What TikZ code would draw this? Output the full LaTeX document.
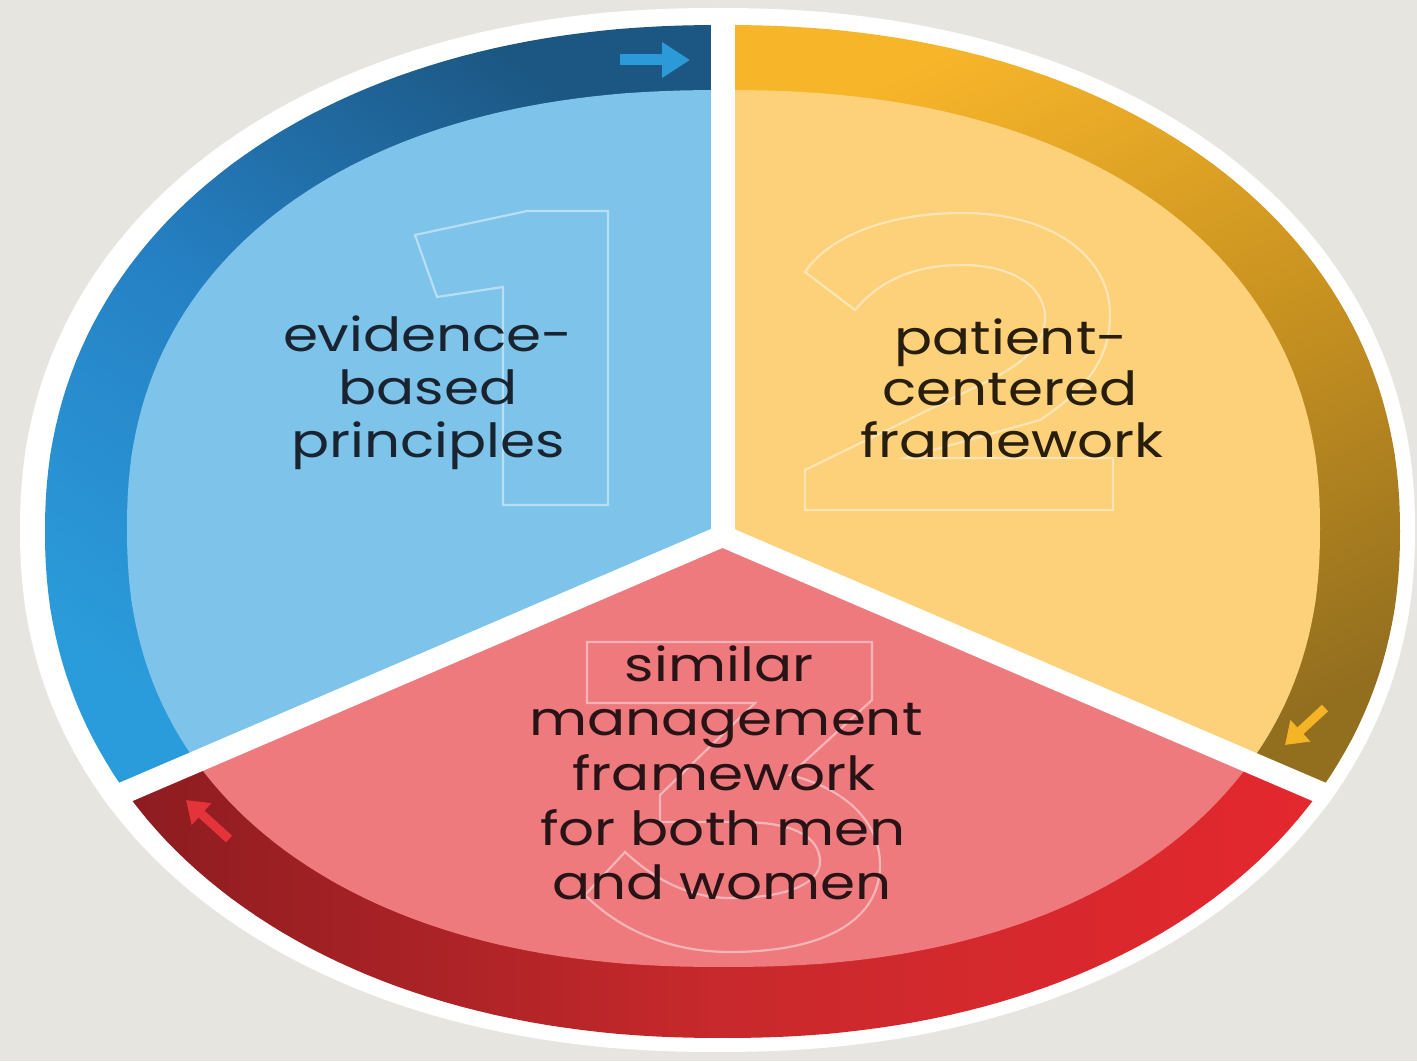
\documentclass[tikz,border=0pt]{standalone}
\usepackage{fontspec}
\newfontfamily\labfont[FakeStretch=1.2]{Poppins}
\usetikzlibrary{arrows.meta}
\definecolor{bg}{RGB}{231,229,223}
\definecolor{blueD}{RGB}{28,86,130}
\definecolor{blueM}{RGB}{37,128,195}
\definecolor{blueL}{RGB}{43,156,219}
\definecolor{blueIn}{RGB}{126,195,234}
\definecolor{goldB}{RGB}{247,181,42}
\definecolor{goldM}{RGB}{200,146,32}
\definecolor{goldD}{RGB}{146,110,31}
\definecolor{goldIn}{RGB}{253,209,122}
\definecolor{redD}{RGB}{140,28,32}
\definecolor{redM}{RGB}{200,41,44}
\definecolor{redB}{RGB}{228,40,46}
\definecolor{redIn}{RGB}{238,122,126}
\definecolor{arrBlue}{RGB}{44,154,216}
\definecolor{arrGold}{RGB}{245,180,37}
\definecolor{arrRed}{RGB}{229,51,58}
\definecolor{txtBlue}{RGB}{26,36,48}
\definecolor{txtGold}{RGB}{40,30,14}
\definecolor{txtRed}{RGB}{40,20,22}
\tikzset{
  declare function={
    sx(\t,\e)=sign(cos(\t))*pow(abs(cos(\t))+0.00001,\e);
    sy(\t,\e)=sign(sin(\t))*pow(abs(sin(\t))+0.00001,\e);
  },
  divider/.style={white, line width=22pt},
  numeral/.style={draw=white, draw opacity=0.45, line width=2.2pt, line join=miter},
  lab/.style={font=\labfont\fontsize{47}{54}\selectfont, anchor=base, inner sep=0pt},
  ringarrow/.style={line width=11pt, -{Triangle[width=34pt,length=28pt]}},
  smallarrow/.style={line width=9pt, -{Triangle[width=28pt,length=21pt]}},
}
\begin{document}
\begin{tikzpicture}[x=1pt,y=1pt]
\useasboundingbox (0,0) rectangle (1417,1061);
\fill[bg] (0,0) rectangle (1417,1061);
\coordinate (J) at (722.5,525);
\coordinate (FT) at (722.5,1200);
\coordinate (FL) at (-158.75,147);
\coordinate (FR) at (1603.75,147);
% outer white rim
\fill[white] plot[domain=0:360, samples=241, variable=\t] ({717.5+697.5*sx(\t,0.93)},{531+522*sy(\t,0.93)}) -- cycle;
% blue sector
\begin{scope}
\clip (J) -- (FT) -- (-200,1200) -- (FL) -- cycle;
\clip plot[domain=0:360, samples=241, variable=\t] ({722.5+677.5*sx(\t,0.93)},{529.5+506.5*sy(\t,0.93)}) -- cycle;
\shade[top color=blueD, bottom color=blueL, middle color=blueM, shading angle=-35] (40,260) rectangle (725,1040);
\fill[blueIn] plot[domain=0:360, samples=241, variable=\t] ({723.5+596.5*sx(\t,0.89)},{532.5+438.5*sy(\t,0.89)}) -- cycle;
\end{scope}
% gold sector
\begin{scope}
\clip (J) -- (FT) -- (1620,1200) -- (FR) -- cycle;
\clip plot[domain=0:360, samples=241, variable=\t] ({722.5+677.5*sx(\t,0.93)},{529.5+506.5*sy(\t,0.93)}) -- cycle;
\shade[top color=goldB, bottom color=goldD, middle color=goldM, shading angle=25] (720,260) rectangle (1405,1040);
\fill[goldIn] plot[domain=0:360, samples=241, variable=\t] ({723.5+596.5*sx(\t,0.89)},{532.5+438.5*sy(\t,0.89)}) -- cycle;
\end{scope}
% red sector
\begin{scope}
\clip (J) -- (FL) -- (-200,-200) -- (1620,-200) -- (FR) -- cycle;
\clip plot[domain=0:360, samples=241, variable=\t] ({722.5+677.5*sx(\t,0.93)},{529.5+506.5*sy(\t,0.93)}) -- cycle;
\shade[left color=redD, right color=redB, middle color=redM] (125,20) rectangle (1320,530);
\fill[redIn] plot[domain=0:360, samples=241, variable=\t] ({723.5+596.5*sx(\t,0.89)},{532.5+438.5*sy(\t,0.89)}) -- cycle;
\end{scope}
% dividers
\begin{scope}
\clip plot[domain=0:360, samples=241, variable=\t] ({717.5+697.5*sx(\t,0.93)},{531+522*sy(\t,0.93)}) -- cycle;
\draw[divider, line width=24pt] (J) -- (FT);
\draw[divider] (J) -- (FL);
\draw[divider] (J) -- (FR);
\end{scope}
% big outlined numerals
\draw[numeral] (415,826) -- (527,850) -- (608,850) -- (608,556) -- (503,556) -- (503,774) -- (437,764) -- cycle;
\draw[numeral] (805,789) .. controls (830,826) and (890,848) .. (962,848) .. controls (1050,848) and (1110,806) .. (1110,746) .. controls (1110,701) and (1085,671) .. (1040,641) -- (905,603) -- (1113,603) -- (1113,551) -- (805,551) -- (805,591) -- (990,681) .. controls (1030,701) and (1045,721) .. (1045,743) .. controls (1045,776) and (1010,796) .. (962,796) .. controls (915,796) and (880,781) .. (855,751) -- cycle;
\draw[numeral] (587,419) -- (872,419) -- (872,361) -- (790,286) .. controls (850,271) and (880,236) .. (880,196) .. controls (880,141) and (825,109) .. (730,109) .. controls (670,109) and (620,131) .. (585,166) -- (625,209) .. controls (655,181) and (690,163) .. (730,163) .. controls (790,163) and (820,179) .. (820,199) .. controls (820,226) and (790,239) .. (740,239) -- (660,239) -- (660,266) -- (755,358) -- (587,358) -- cycle;
% ring arrows
\coordinate (ab1) at (620,1001); \coordinate (ab2) at (690,1001);
\coordinate (ag1) at (1325,353); \coordinate (ag2) at (1285,316);
\coordinate (ar1) at (229,222); \coordinate (ar2) at (186,261);
\draw[ringarrow, arrBlue] (ab1) -- (ab2);
\draw[smallarrow, arrGold] (ag1) -- (ag2);
\draw[smallarrow, arrRed] (ar1) -- (ar2);
% labels
\node[lab, text=txtBlue] (t1a) at (428,709) {evidence-};
\node[lab, text=txtBlue] (t1b) at (428,656) {based};
\node[lab, text=txtBlue] (t1c) at (428,603) {principles};
\node[lab, text=txtGold] (t2a) at (1011,706) {patient-};
\node[lab, text=txtGold] (t2b) at (1010,655) {centered};
\node[lab, text=txtGold] (t2c) at (1012,603) {framework};
\node[lab, text=txtRed] (t3a) at (719,379) {similar};
\node[lab, text=txtRed] (t3b) at (726,325) {management};
\node[lab, text=txtRed] (t3c) at (724,270) {framework};
\node[lab, text=txtRed] (t3d) at (723,215) {for both men};
\node[lab, text=txtRed] (t3e) at (722,161) {and women};
\end{tikzpicture}
\end{document}
